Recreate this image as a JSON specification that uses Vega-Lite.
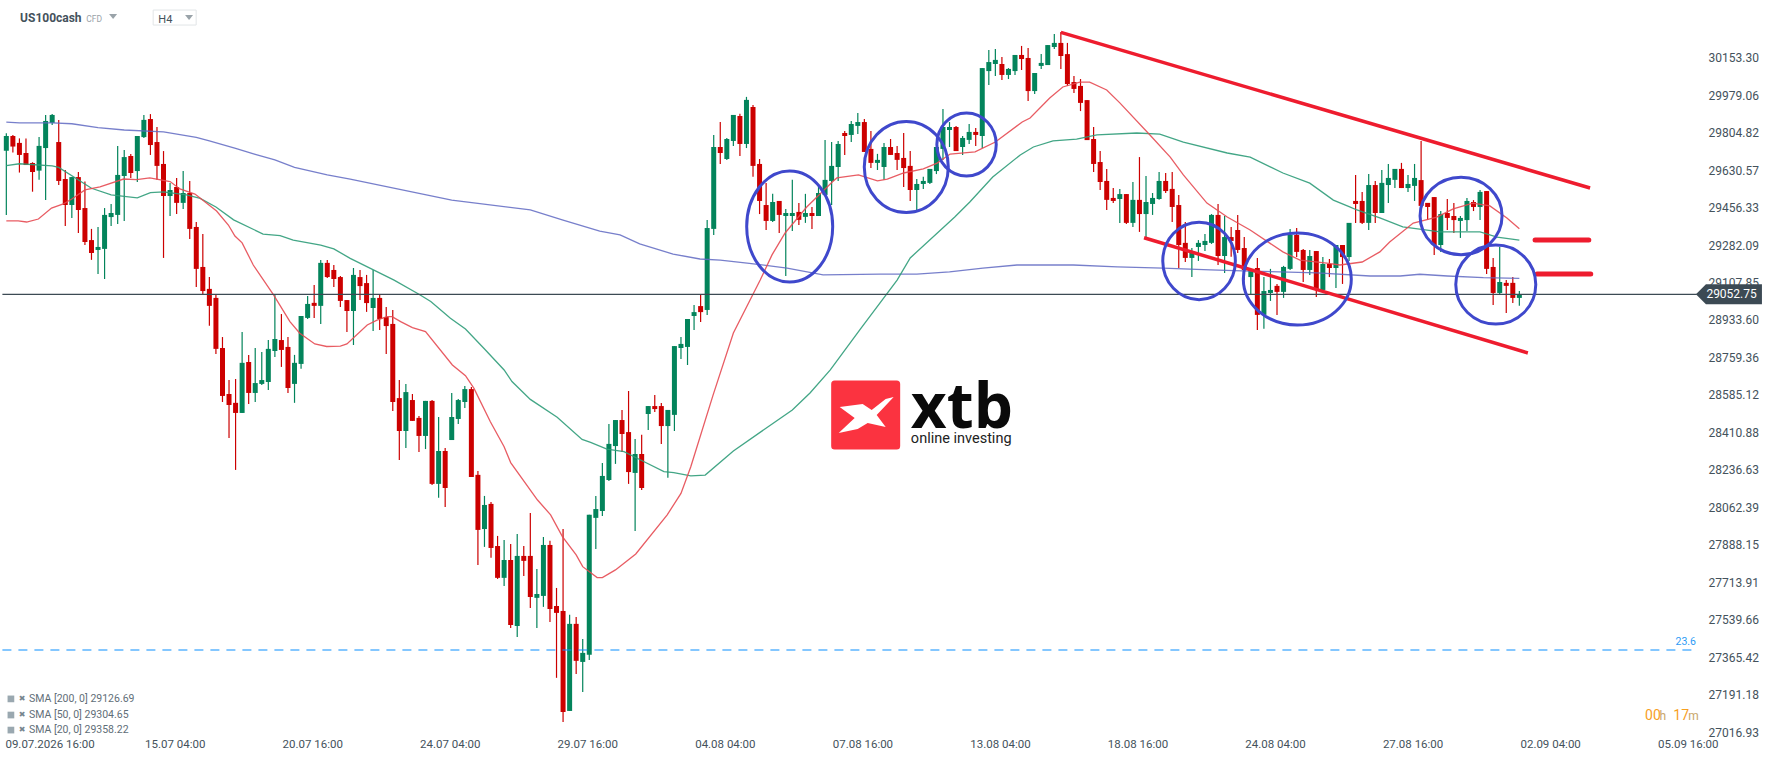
{
  "$schema": "https://vega.github.io/schema/vega-lite/v6.json",
  "autosize": "none",
  "padding": {"left": 0, "top": 0, "right": 68, "bottom": 26},
  "width": 1700,
  "height": 735,
  "background": "white",
  "config": {"view": {"stroke": null}, "text": {"font": "Roboto"}},
  "datasets": {
    "candles": [
      {"i":0,"o":29721,"h":29802,"l":29422,"c":29789},{"i":1,"o":29789,"h":29794,"l":29712,"c":29740},{"i":2,"o":29757,"h":29778,"l":29619,"c":29701},{"i":3,"o":29710,"h":29778,"l":29654,"c":29654},{"i":4,"o":29664,"h":29667,"l":29530,"c":29622},
      {"i":5,"o":29628,"h":29784,"l":29586,"c":29743},{"i":6,"o":29733,"h":29887,"l":29491,"c":29859},{"i":7,"o":29850,"h":29891,"l":29840,"c":29887},{"i":8,"o":29761,"h":29863,"l":29561,"c":29580},{"i":9,"o":29589,"h":29631,"l":29371,"c":29468},
      {"i":10,"o":29468,"h":29598,"l":29408,"c":29598},{"i":11,"o":29598,"h":29622,"l":29338,"c":29445},{"i":12,"o":29454,"h":29577,"l":29282,"c":29296},{"i":13,"o":29305,"h":29357,"l":29213,"c":29245},{"i":14,"o":29259,"h":29366,"l":29147,"c":29273},
      {"i":15,"o":29264,"h":29454,"l":29124,"c":29422},{"i":16,"o":29412,"h":29473,"l":29371,"c":29431},{"i":17,"o":29422,"h":29743,"l":29380,"c":29608},{"i":18,"o":29603,"h":29724,"l":29394,"c":29691},{"i":19,"o":29696,"h":29705,"l":29594,"c":29617},
      {"i":20,"o":29626,"h":29789,"l":29575,"c":29789},{"i":21,"o":29784,"h":29887,"l":29780,"c":29864},{"i":22,"o":29868,"h":29891,"l":29701,"c":29747},{"i":23,"o":29761,"h":29831,"l":29585,"c":29650},{"i":24,"o":29659,"h":29719,"l":29222,"c":29510},
      {"i":25,"o":29510,"h":29571,"l":29417,"c":29538},{"i":26,"o":29552,"h":29594,"l":29426,"c":29478},{"i":27,"o":29478,"h":29626,"l":29450,"c":29524},{"i":28,"o":29524,"h":29580,"l":29310,"c":29357},{"i":29,"o":29366,"h":29389,"l":29087,"c":29171},
      {"i":30,"o":29180,"h":29333,"l":29054,"c":29068},{"i":31,"o":29078,"h":29133,"l":28906,"c":28999},{"i":32,"o":29036,"h":29050,"l":28775,"c":28799},{"i":33,"o":28803,"h":28854,"l":28552,"c":28580},{"i":34,"o":28589,"h":28654,"l":28385,"c":28538},
      {"i":35,"o":28548,"h":28659,"l":28236,"c":28501},{"i":36,"o":28501,"h":28878,"l":28501,"c":28734},{"i":37,"o":28738,"h":28771,"l":28543,"c":28594},{"i":38,"o":28594,"h":28803,"l":28552,"c":28640},{"i":39,"o":28636,"h":28785,"l":28631,"c":28654},
      {"i":40,"o":28645,"h":28840,"l":28608,"c":28799},{"i":41,"o":28789,"h":29050,"l":28761,"c":28845},{"i":42,"o":28840,"h":28961,"l":28715,"c":28794},{"i":43,"o":28808,"h":28854,"l":28594,"c":28617},{"i":44,"o":28636,"h":28771,"l":28548,"c":28734},
      {"i":45,"o":28729,"h":28952,"l":28706,"c":28952},{"i":46,"o":28943,"h":29045,"l":28938,"c":29008},{"i":47,"o":29013,"h":29096,"l":28943,"c":28999},{"i":48,"o":28999,"h":29212,"l":28915,"c":29199},{"i":49,"o":29199,"h":29212,"l":29129,"c":29133},
      {"i":50,"o":29166,"h":29189,"l":29087,"c":29124},{"i":51,"o":29133,"h":29138,"l":28994,"c":29022},{"i":52,"o":29026,"h":29026,"l":28878,"c":28975},{"i":53,"o":28975,"h":29175,"l":28817,"c":29143},{"i":54,"o":29133,"h":29166,"l":29026,"c":29091},
      {"i":55,"o":29105,"h":29143,"l":28971,"c":29012},{"i":56,"o":28989,"h":29166,"l":28882,"c":29036},{"i":57,"o":29036,"h":29050,"l":28887,"c":28938},{"i":58,"o":28947,"h":28994,"l":28775,"c":28905},{"i":59,"o":28915,"h":28980,"l":28510,"c":28552},
      {"i":60,"o":28570,"h":28654,"l":28282,"c":28417},{"i":61,"o":28417,"h":28636,"l":28338,"c":28598},{"i":62,"o":28561,"h":28589,"l":28464,"c":28464},{"i":63,"o":28478,"h":28487,"l":28319,"c":28394},{"i":64,"o":28394,"h":28557,"l":28333,"c":28557},
      {"i":65,"o":28557,"h":28561,"l":28166,"c":28171},{"i":66,"o":28171,"h":28482,"l":28106,"c":28324},{"i":67,"o":28324,"h":28338,"l":28064,"c":28152},{"i":68,"o":28375,"h":28594,"l":28375,"c":28482},{"i":69,"o":28473,"h":28566,"l":28450,"c":28561},
      {"i":70,"o":28552,"h":28626,"l":28524,"c":28612},{"i":71,"o":28612,"h":28622,"l":28203,"c":28203},{"i":72,"o":28213,"h":28231,"l":27794,"c":27957},{"i":73,"o":27961,"h":28115,"l":27878,"c":28073},{"i":74,"o":28078,"h":28087,"l":27827,"c":27873},
      {"i":75,"o":27882,"h":27929,"l":27729,"c":27734},{"i":76,"o":27734,"h":27910,"l":27696,"c":27817},{"i":77,"o":27817,"h":27892,"l":27501,"c":27515},{"i":78,"o":27510,"h":27938,"l":27459,"c":27836},{"i":79,"o":27836,"h":27882,"l":27743,"c":27813},
      {"i":80,"o":27836,"h":28036,"l":27594,"c":27645},{"i":81,"o":27641,"h":27775,"l":27501,"c":27659},{"i":82,"o":27650,"h":27924,"l":27599,"c":27887},{"i":83,"o":27887,"h":27906,"l":27529,"c":27589},{"i":84,"o":27603,"h":27687,"l":27269,"c":27571},
      {"i":85,"o":27580,"h":27961,"l":27064,"c":27110},{"i":86,"o":27115,"h":27562,"l":27115,"c":27520},{"i":87,"o":27520,"h":27552,"l":27287,"c":27348},{"i":88,"o":27343,"h":27450,"l":27203,"c":27385},{"i":89,"o":27376,"h":28027,"l":27352,"c":28027},
      {"i":90,"o":28013,"h":28115,"l":27868,"c":28054},{"i":91,"o":28045,"h":28268,"l":28022,"c":28208},{"i":92,"o":28189,"h":28450,"l":28185,"c":28357},{"i":93,"o":28347,"h":28468,"l":28264,"c":28468},{"i":94,"o":28468,"h":28515,"l":28319,"c":28403},
      {"i":95,"o":28412,"h":28603,"l":28171,"c":28226},{"i":96,"o":28222,"h":28380,"l":27952,"c":28310},{"i":97,"o":28310,"h":28399,"l":28143,"c":28152},{"i":98,"o":28496,"h":28533,"l":28422,"c":28533},{"i":99,"o":28533,"h":28584,"l":28505,"c":28519},
      {"i":100,"o":28533,"h":28547,"l":28357,"c":28440},{"i":101,"o":28440,"h":28515,"l":28199,"c":28515},{"i":102,"o":28492,"h":28812,"l":28417,"c":28812},{"i":103,"o":28803,"h":28854,"l":28752,"c":28822},{"i":104,"o":28808,"h":28938,"l":28724,"c":28938},
      {"i":105,"o":28952,"h":29003,"l":28887,"c":28970},{"i":106,"o":28998,"h":29049,"l":28924,"c":28970},{"i":107,"o":28980,"h":29398,"l":28957,"c":29361},{"i":108,"o":29357,"h":29794,"l":29329,"c":29738},{"i":109,"o":29738,"h":29854,"l":29659,"c":29710},
      {"i":110,"o":29682,"h":29780,"l":29678,"c":29775},{"i":111,"o":29766,"h":29887,"l":29743,"c":29887},{"i":112,"o":29882,"h":29892,"l":29696,"c":29752},{"i":113,"o":29752,"h":29971,"l":29733,"c":29957},{"i":114,"o":29924,"h":29933,"l":29599,"c":29650},
      {"i":115,"o":29659,"h":29682,"l":29426,"c":29487},{"i":116,"o":29468,"h":29571,"l":29352,"c":29394},{"i":117,"o":29394,"h":29520,"l":29389,"c":29482},{"i":118,"o":29487,"h":29487,"l":29338,"c":29422},{"i":119,"o":29417,"h":29450,"l":29138,"c":29431},
      {"i":120,"o":29417,"h":29585,"l":29347,"c":29431},{"i":121,"o":29436,"h":29478,"l":29375,"c":29399},{"i":122,"o":29413,"h":29520,"l":29385,"c":29431},{"i":123,"o":29431,"h":29459,"l":29357,"c":29417},{"i":124,"o":29417,"h":29552,"l":29417,"c":29524},
      {"i":125,"o":29515,"h":29771,"l":29515,"c":29585},{"i":126,"o":29580,"h":29761,"l":29468,"c":29650},{"i":127,"o":29645,"h":29766,"l":29580,"c":29752},{"i":128,"o":29803,"h":29812,"l":29701,"c":29789},{"i":129,"o":29794,"h":29859,"l":29761,"c":29845},
      {"i":130,"o":29836,"h":29896,"l":29798,"c":29854},{"i":131,"o":29854,"h":29868,"l":29715,"c":29715},{"i":132,"o":29729,"h":29812,"l":29640,"c":29664},{"i":133,"o":29664,"h":29706,"l":29631,"c":29678},{"i":134,"o":29645,"h":29757,"l":29585,"c":29738},
      {"i":135,"o":29738,"h":29775,"l":29701,"c":29701},{"i":136,"o":29710,"h":29743,"l":29631,"c":29678},{"i":137,"o":29687,"h":29803,"l":29552,"c":29640},{"i":138,"o":29650,"h":29719,"l":29487,"c":29538},{"i":139,"o":29538,"h":29589,"l":29445,"c":29566},
      {"i":140,"o":29566,"h":29599,"l":29543,"c":29580},{"i":141,"o":29571,"h":29636,"l":29566,"c":29636},{"i":142,"o":29626,"h":29738,"l":29612,"c":29738},{"i":143,"o":29729,"h":29915,"l":29678,"c":29831},{"i":144,"o":29817,"h":29854,"l":29738,"c":29831},
      {"i":145,"o":29831,"h":29836,"l":29719,"c":29719},{"i":146,"o":29738,"h":29789,"l":29701,"c":29780},{"i":147,"o":29771,"h":29845,"l":29752,"c":29808},{"i":148,"o":29808,"h":29826,"l":29743,"c":29794},{"i":149,"o":29789,"h":30105,"l":29733,"c":30105},
      {"i":150,"o":30091,"h":30189,"l":30026,"c":30133},{"i":151,"o":30124,"h":30194,"l":30068,"c":30143},{"i":152,"o":30124,"h":30157,"l":30050,"c":30073},{"i":153,"o":30073,"h":30105,"l":30054,"c":30101},{"i":154,"o":30091,"h":30166,"l":30073,"c":30166},
      {"i":155,"o":30166,"h":30208,"l":30096,"c":30147},{"i":156,"o":30152,"h":30198,"l":29952,"c":29998},{"i":157,"o":29998,"h":30082,"l":29984,"c":30082},{"i":158,"o":30115,"h":30170,"l":30101,"c":30129},{"i":159,"o":30119,"h":30212,"l":30119,"c":30212},
      {"i":160,"o":30203,"h":30263,"l":30194,"c":30222},{"i":161,"o":30222,"h":30273,"l":30101,"c":30161},{"i":162,"o":30170,"h":30222,"l":30022,"c":30031},{"i":163,"o":30040,"h":30068,"l":29989,"c":30008},{"i":164,"o":30022,"h":30054,"l":29905,"c":29943},
      {"i":165,"o":29956,"h":29956,"l":29770,"c":29770},{"i":166,"o":29775,"h":29831,"l":29622,"c":29659},{"i":167,"o":29668,"h":29719,"l":29538,"c":29575},{"i":168,"o":29580,"h":29636,"l":29445,"c":29492},{"i":169,"o":29501,"h":29547,"l":29478,"c":29487},
      {"i":170,"o":29496,"h":29543,"l":29385,"c":29519},{"i":171,"o":29519,"h":29519,"l":29380,"c":29385},{"i":172,"o":29385,"h":29575,"l":29366,"c":29492},{"i":173,"o":29492,"h":29691,"l":29343,"c":29426},{"i":174,"o":29426,"h":29603,"l":29319,"c":29482},
      {"i":175,"o":29473,"h":29524,"l":29422,"c":29501},{"i":176,"o":29496,"h":29622,"l":29492,"c":29580},{"i":177,"o":29580,"h":29617,"l":29524,"c":29533},{"i":178,"o":29543,"h":29622,"l":29389,"c":29459},{"i":179,"o":29468,"h":29515,"l":29175,"c":29282},
      {"i":180,"o":29292,"h":29389,"l":29203,"c":29222},{"i":181,"o":29222,"h":29268,"l":29133,"c":29250},{"i":182,"o":29273,"h":29305,"l":29208,"c":29292},{"i":183,"o":29282,"h":29333,"l":29254,"c":29301},{"i":184,"o":29292,"h":29426,"l":29287,"c":29422},
      {"i":185,"o":29422,"h":29473,"l":29189,"c":29231},{"i":186,"o":29231,"h":29417,"l":29152,"c":29319},{"i":187,"o":29319,"h":29366,"l":29228,"c":29301},{"i":188,"o":29352,"h":29422,"l":29245,"c":29259},{"i":189,"o":29268,"h":29319,"l":29119,"c":29166},
      {"i":190,"o":29133,"h":29171,"l":29050,"c":29166},{"i":191,"o":29175,"h":29222,"l":28887,"c":28957},{"i":192,"o":28957,"h":29133,"l":28892,"c":29068},{"i":193,"o":29059,"h":29171,"l":29022,"c":29073},{"i":194,"o":29092,"h":29101,"l":28957,"c":29064},
      {"i":195,"o":29064,"h":29185,"l":29036,"c":29180},{"i":196,"o":29171,"h":29357,"l":29166,"c":29329},{"i":197,"o":29329,"h":29361,"l":29226,"c":29250},{"i":198,"o":29259,"h":29264,"l":29110,"c":29166},{"i":199,"o":29166,"h":29259,"l":29143,"c":29231},
      {"i":200,"o":29254,"h":29254,"l":29040,"c":29073},{"i":201,"o":29073,"h":29226,"l":29068,"c":29194},{"i":202,"o":29194,"h":29217,"l":29133,"c":29175},{"i":203,"o":29175,"h":29282,"l":29082,"c":29282},{"i":204,"o":29282,"h":29282,"l":29101,"c":29226},
      {"i":205,"o":29226,"h":29385,"l":29208,"c":29385},{"i":206,"o":29487,"h":29608,"l":29385,"c":29473},{"i":207,"o":29487,"h":29529,"l":29380,"c":29385},{"i":208,"o":29385,"h":29612,"l":29352,"c":29561},{"i":209,"o":29561,"h":29580,"l":29385,"c":29431},
      {"i":210,"o":29431,"h":29631,"l":29431,"c":29571},{"i":211,"o":29561,"h":29659,"l":29478,"c":29594},{"i":212,"o":29585,"h":29636,"l":29547,"c":29636},{"i":213,"o":29636,"h":29664,"l":29547,"c":29547},{"i":214,"o":29547,"h":29608,"l":29529,"c":29566},
      {"i":215,"o":29557,"h":29659,"l":29487,"c":29594},{"i":216,"o":29584,"h":29766,"l":29440,"c":29464},{"i":217,"o":29478,"h":29478,"l":29398,"c":29459},{"i":218,"o":29505,"h":29505,"l":29236,"c":29282},{"i":219,"o":29282,"h":29440,"l":29250,"c":29426},
      {"i":220,"o":29431,"h":29496,"l":29352,"c":29408},{"i":221,"o":29417,"h":29478,"l":29338,"c":29398},{"i":222,"o":29394,"h":29417,"l":29315,"c":29408},{"i":223,"o":29398,"h":29501,"l":29347,"c":29487},{"i":224,"o":29482,"h":29491,"l":29440,"c":29459},
      {"i":225,"o":29459,"h":29538,"l":29398,"c":29529},{"i":226,"o":29533,"h":29533,"l":29147,"c":29171},{"i":227,"o":29180,"h":29222,"l":29003,"c":29059},{"i":228,"o":29059,"h":29273,"l":29054,"c":29110},{"i":229,"o":29106,"h":29119,"l":28966,"c":29092},
      {"i":230,"o":29106,"h":29133,"l":29012,"c":29036},{"i":231,"o":29036,"h":29068,"l":28999,"c":29053}
    ],
    "sma200": [
      {"i":0,"p":29854},{"i":2,"p":29850},{"i":7,"p":29850},{"i":10,"p":29846},{"i":14,"p":29828},{"i":18,"p":29817},{"i":24,"p":29808},{"i":29,"p":29783},{"i":31,"p":29766},{"i":35,"p":29732},{"i":38,"p":29704},{"i":41,"p":29678},{"i":44,"p":29643},{"i":49,"p":29608},{"i":52.5,"p":29588},
      {"i":68,"p":29491},{"i":80,"p":29445},{"i":85,"p":29398},{"i":90.6,"p":29347},{"i":93.7,"p":29329},{"i":96.7,"p":29287},{"i":101.8,"p":29240},{"i":105.9,"p":29217},{"i":109,"p":29212},{"i":113.1,"p":29198},{"i":119.2,"p":29175},{"i":124.7,"p":29143},{"i":133.4,"p":29147},{"i":139,"p":29147},{"i":144,"p":29157},{"i":149.1,"p":29175},{"i":154.3,"p":29189},{"i":162.9,"p":29189},{"i":169.6,"p":29180},{"i":176.6,"p":29175},{"i":183.8,"p":29166},{"i":189.9,"p":29161},{"i":200.1,"p":29152},{"i":208.2,"p":29138},{"i":212.8,"p":29138},{"i":215.8,"p":29146},{"i":220,"p":29138},{"i":225.5,"p":29130},{"i":231,"p":29127}
    ],
    "sma50": [
      {"i":0,"p":29651},{"i":2,"p":29660},{"i":7,"p":29650},{"i":8,"p":29643},{"i":13,"p":29546},{"i":16,"p":29515},{"i":20,"p":29501},{"i":22,"p":29526},{"i":24,"p":29529},{"i":27.5,"p":29515},{"i":29.6,"p":29499},{"i":32,"p":29459},{"i":34.7,"p":29399},{"i":39.2,"p":29333},{"i":41.8,"p":29326},{"i":43.8,"p":29305},{"i":48,"p":29282},{"i":50,"p":29264},{"i":52.5,"p":29220},
      {"i":59.2,"p":29119},{"i":63,"p":29053},{"i":64.8,"p":29019},{"i":67.8,"p":28941},{"i":70.1,"p":28891},{"i":72.9,"p":28802},{"i":76,"p":28701},{"i":77.2,"p":28647},{"i":80,"p":28564},{"i":84.1,"p":28481},{"i":87.9,"p":28378},{"i":89.2,"p":28364},{"i":91.7,"p":28333},{"i":94.3,"p":28321},{"i":97.3,"p":28275},{"i":100.4,"p":28228},{"i":101.9,"p":28223},{"i":104.5,"p":28208},{"i":106.7,"p":28212},{"i":111,"p":28324},{"i":120,"p":28515},{"i":122.7,"p":28594},{"i":125.8,"p":28701},{"i":130.3,"p":28887},{"i":136,"p":29119},{"i":138,"p":29222},{"i":144.8,"p":29412},{"i":147.1,"p":29482},{"i":150.6,"p":29598},{"i":154.8,"p":29701},{"i":156.8,"p":29738},{"i":159.8,"p":29766},{"i":163.4,"p":29775},{"i":166.5,"p":29794},{"i":172.6,"p":29803},{"i":176.1,"p":29798},{"i":179.7,"p":29761},{"i":186.4,"p":29710},{"i":189.9,"p":29691},{"i":194.9,"p":29617},{"i":199,"p":29570},{"i":202.6,"p":29491},{"i":205.1,"p":29459},{"i":206.2,"p":29445},{"i":209.7,"p":29408},{"i":213.2,"p":29366},{"i":218.9,"p":29343},{"i":225,"p":29343},{"i":227.6,"p":29319},{"i":231,"p":29305}
    ],
    "sma20": [
      {"i":0,"p":29394},{"i":1.8,"p":29394},{"i":3.1,"p":29389},{"i":4.9,"p":29403},{"i":6.9,"p":29454},{"i":8.7,"p":29473},{"i":10,"p":29496},{"i":12,"p":29538},{"i":14.3,"p":29552},{"i":17.9,"p":29589},{"i":19.9,"p":29586},{"i":21.9,"p":29594},{"i":25,"p":29577},{"i":26.5,"p":29543},{"i":28.8,"p":29519},{"i":32.1,"p":29440},{"i":33.9,"p":29375},{"i":34.9,"p":29324},{"i":36,"p":29292},{"i":37.7,"p":29189},{"i":40.8,"p":29050},{"i":43.3,"p":28926},{"i":44.8,"p":28872},{"i":47.1,"p":28822},{"i":48.9,"p":28810},{"i":51,"p":28812},{"i":52,"p":28822},
      {"i":55.1,"p":28910},{"i":56.6,"p":28933},{"i":58.1,"p":28949},{"i":58.9,"p":28949},{"i":60.2,"p":28926},{"i":62,"p":28898},{"i":64,"p":28879},{"i":68.1,"p":28724},{"i":70.1,"p":28674},{"i":71.4,"p":28615},{"i":73.9,"p":28460},{"i":76,"p":28344},{"i":77,"p":28270},{"i":81.1,"p":28096},{"i":83.1,"p":28027},{"i":84.9,"p":27926},{"i":87,"p":27841},{"i":88,"p":27786},{"i":90.2,"p":27735},{"i":91,"p":27735},{"i":93,"p":27771},{"i":96.1,"p":27845},{"i":100.9,"p":28027},{"i":103,"p":28127},{"i":104.5,"p":28251},{"i":107.9,"p":28584},{"i":111,"p":28873},{"i":115.1,"p":29119},{"i":116.9,"p":29236},{"i":118.9,"p":29338},{"i":122.2,"p":29459},{"i":126.1,"p":29575},{"i":126.8,"p":29594},{"i":130.1,"p":29608},{"i":133,"p":29580},{"i":134.5,"p":29589},{"i":137,"p":29617},{"i":140,"p":29636},{"i":142.1,"p":29663},{"i":144.1,"p":29705},{"i":147.9,"p":29715},{"i":151,"p":29761},{"i":155.1,"p":29854},{"i":156.3,"p":29873},{"i":159.3,"p":29966},{"i":161.3,"p":30017},{"i":163.9,"p":30040},{"i":165.4,"p":30040},{"i":168,"p":30003},{"i":170,"p":29943},{"i":174.6,"p":29794},{"i":177.7,"p":29691},{"i":179.7,"p":29608},{"i":183.3,"p":29477},{"i":186.4,"p":29412},{"i":189.9,"p":29352},{"i":194.9,"p":29250},{"i":197.5,"p":29212},{"i":201.6,"p":29198},{"i":203.6,"p":29189},{"i":207,"p":29203},{"i":209.7,"p":29250},{"i":211.2,"p":29296},{"i":214.8,"p":29384},{"i":218.4,"p":29412},{"i":220.9,"p":29450},{"i":223.9,"p":29477},{"i":226.5,"p":29464},{"i":229.1,"p":29408},{"i":231,"p":29358}
    ],
    "trend": [
      {"line":"upper","i":161,"p":30271},{"line":"upper","i":241.8,"p":29547},
      {"line":"lower","i":173.7,"p":29316},{"line":"lower","i":232.3,"p":28780}
    ],
    "stubs": [
      {"line":"a","i":233.4,"p":29305},{"line":"a","i":241.6,"p":29305},
      {"line":"b","i":233.7,"p":29147},{"line":"b","i":241.9,"p":29147}
    ]
  },
  "encoding": {
    "x": {
      "field": "i",
      "type": "quantitative",
      "scale": {"domain": [-0.966, 258.58], "nice": false, "zero": false, "padding": 0},
      "axis": {
        "title": null, "grid": false, "domain": false, "ticks": false, "labelFont": "Roboto", "labelFontSize": 11.5, "labelColor": "#44525c", "labelPadding": 3, "labelOverlap": false, "labelFlush": false, "labelBound": false,
        "values": [6.6, 25.7, 46.7, 67.7, 88.7, 109.7, 130.7, 151.7, 172.7, 193.7, 214.7, 235.7, 256.7],
        "labelExpr": "['09.07.2026 16:00','15.07 04:00','20.07 16:00','24.07 04:00','29.07 16:00','04.08 04:00','07.08 16:00','13.08 04:00','18.08 16:00','24.08 04:00','27.08 16:00','02.09 04:00','05.09 16:00'][round((datum.value-4.7)/21)]"
      }
    },
    "y": {
      "field": "p",
      "type": "quantitative",
      "scale": {"domain": [27003.1, 30421.6], "nice": false, "zero": false},
      "axis": {
        "orient": "right", "title": null, "grid": false, "domain": false, "ticks": false, "labelFont": "Roboto", "labelFontSize": 12, "labelColor": "#44525c", "labelPadding": 8, "labelOverlap": false, "labelFlush": false, "labelBound": false, "format": ".2f",
        "values": [30153.30, 29979.06, 29804.82, 29630.57, 29456.33, 29282.09, 29107.85, 28933.60, 28759.36, 28585.12, 28410.88, 28236.63, 28062.39, 27888.15, 27713.91, 27539.66, 27365.42, 27191.18, 27016.93]
      }
    }
  },
  "layer": [
    {
      "data": {"name": "candles"},
      "mark": {"type": "rule", "strokeWidth": 1.2},
      "encoding": {
        "y": {"field": "l", "type": "quantitative"},
        "y2": {"field": "h"},
        "color": {"condition": {"test": "datum.c > datum.o", "value": "#03845b"}, "value": "#cc0000"}
      }
    },
    {
      "data": {"name": "candles"},
      "mark": {"type": "bar", "width": 5, "orient": "vertical"},
      "encoding": {
        "y": {"field": "o", "type": "quantitative"},
        "y2": {"field": "c"},
        "color": {"condition": {"test": "datum.c > datum.o", "value": "#03845b"}, "value": "#cc0000"}
      }
    },
    {"data": {"name": "sma200"}, "mark": {"type": "line", "stroke": "#5f68c2", "strokeWidth": 1.3, "opacity": 0.85}, "encoding": {}},
    {"data": {"name": "sma50"}, "mark": {"type": "line", "stroke": "#2f9c79", "strokeWidth": 1.3, "opacity": 0.9}, "encoding": {}},
    {"data": {"name": "sma20"}, "mark": {"type": "line", "stroke": "#e64a52", "strokeWidth": 1.3, "opacity": 0.9}, "encoding": {}},
    {
      "data": {"values": [{"i": -0.6, "i2": 258.1, "p": 29052.75}]},
      "mark": {"type": "rule", "stroke": "#3c4a54", "strokeWidth": 1.2},
      "encoding": {"x2": {"field": "i2"}}
    },
    {
      "data": {"values": [{"i": -0.6, "i2": 258.1, "p": 27398.4}]},
      "mark": {"type": "rule", "stroke": "#0a8fff", "strokeWidth": 1.2, "strokeDash": [9, 7]},
      "encoding": {"x2": {"field": "i2"}}
    },
    {
      "data": {"name": "trend"},
      "mark": {"type": "line", "stroke": "#ee1c2e", "strokeWidth": 3.5},
      "encoding": {"detail": {"field": "line"}}
    },
    {
      "data": {"name": "stubs"},
      "mark": {"type": "line", "stroke": "#ee1c2e", "strokeWidth": 5, "strokeCap": "round"},
      "encoding": {"detail": {"field": "line"}}
    },
    {"data": {"values": [{"i": 119.6, "p": 29368}]}, "mark": {"type": "point", "filled": false, "size": 4, "opacity": 1, "stroke": "#3f48cc", "strokeWidth": 3, "shape": "M-43,0A43,55.5 0 1,1 43,0A43,55.5 0 1,1 -43,0Z"}},
    {"data": {"values": [{"i": 137.4, "p": 29645}]}, "mark": {"type": "point", "filled": false, "size": 4, "opacity": 1, "stroke": "#3f48cc", "strokeWidth": 3, "shape": "M-42,0A42,45.5 0 1,1 42,0A42,45.5 0 1,1 -42,0Z"}},
    {"data": {"values": [{"i": 146.6, "p": 29749}]}, "mark": {"type": "point", "filled": false, "size": 4, "opacity": 1, "stroke": "#3f48cc", "strokeWidth": 3, "shape": "M-29.7,0A29.7,31.5 0 1,1 29.7,0A29.7,31.5 0 1,1 -29.7,0Z"}},
    {"data": {"values": [{"i": 182.1, "p": 29208}]}, "mark": {"type": "point", "filled": false, "size": 4, "opacity": 1, "stroke": "#3f48cc", "strokeWidth": 3, "shape": "M-36.3,0A36.3,38.7 0 1,1 36.3,0A36.3,38.7 0 1,1 -36.3,0Z"}},
    {"data": {"values": [{"i": 197.1, "p": 29124}]}, "mark": {"type": "point", "filled": false, "size": 4, "opacity": 1, "stroke": "#3f48cc", "strokeWidth": 3, "shape": "M-54,0A54,46 0 1,1 54,0A54,46 0 1,1 -54,0Z"}},
    {"data": {"values": [{"i": 222.1, "p": 29417}]}, "mark": {"type": "point", "filled": false, "size": 4, "opacity": 1, "stroke": "#3f48cc", "strokeWidth": 3, "shape": "M-41,0A41,38.7 0 1,1 41,0A41,38.7 0 1,1 -41,0Z"}},
    {"data": {"values": [{"i": 227.4, "p": 29098}]}, "mark": {"type": "point", "filled": false, "size": 4, "opacity": 1, "stroke": "#3f48cc", "strokeWidth": 3, "shape": "M-40,0A40,39.5 0 1,1 40,0A40,39.5 0 1,1 -40,0Z"}},
    {"data": {"values": [{"i": 263, "p": 29052.75}]}, "mark": {"type": "point", "filled": true, "size": 4, "opacity": 1, "color": "#3c4a54", "shape": "M-33,0L-23,-10L33,-10L33,10L-23,10Z"}},
    {
      "data": {"values": [{"i": 263.4, "p": 29052.75, "t": "29052.75"}]},
      "mark": {"type": "text", "color": "white", "fontSize": 12, "font": "Roboto", "baseline": "middle"},
      "encoding": {"text": {"field": "t"}}
    },
    {
      "data": {"values": [{"i": 256.4, "p": 27437, "t": "23.6"}]},
      "mark": {"type": "text", "color": "#2e9bf5", "fontSize": 10.5, "baseline": "middle"},
      "encoding": {"text": {"field": "t"}}
    },
    {"data": {"values": [{"i": 131.2, "p": 28491}]}, "mark": {"type": "point", "filled": true, "size": 4, "opacity": 1, "color": "#fb3340", "shape": "M-31,-34.5L31,-34.5Q34.5,-34.5 34.5,-31L34.5,31Q34.5,34.5 31,34.5L-31,34.5Q-34.5,34.5 -34.5,31L-34.5,-31Q-34.5,-34.5 -31,-34.5Z"}},
    {"data": {"values": [{"i": 131.2, "p": 28491}]}, "mark": {"type": "point", "filled": true, "size": 4, "opacity": 1, "color": "white", "shape": "M-26,-8L-3,-11L6,-5L20,-16L28,-18L11,0L20,12L2,8L-8,14L-27,18L-11,3Z"}},
    {
      "data": {"values": [{"i": 138.1, "p": 28432, "t": "xtb"}]},
      "mark": {"type": "text", "align": "left", "baseline": "alphabetic", "font": "Open Sans", "fontWeight": 700, "fontSize": 62, "color": "#0a0a0a"},
      "encoding": {"text": {"field": "t"}}
    },
    {
      "data": {"values": [{"i": 138.1, "p": 28362, "t": "online investing"}]},
      "mark": {"type": "text", "align": "left", "baseline": "alphabetic", "fontSize": 14.5, "color": "#222222"},
      "encoding": {"text": {"field": "t"}}
    },
    {
      "data": {"values": [{"i": 2.1, "p": 30336, "t": "US100cash"}]},
      "mark": {"type": "text", "align": "left", "baseline": "middle", "fontWeight": 700, "fontSize": 12, "color": "#44525c"},
      "encoding": {"text": {"field": "t"}}
    },
    {
      "data": {"values": [{"i": 12.2, "p": 30333, "t": "CFD"}]},
      "mark": {"type": "text", "align": "left", "baseline": "middle", "fontSize": 8.5, "color": "#9aa3a9"},
      "encoding": {"text": {"field": "t"}}
    },
    {"data": {"values": [{"i": 16.3, "p": 30347}, {"i": 27.9, "p": 30342}]}, "mark": {"type": "point", "filled": true, "size": 4, "opacity": 1, "color": "#9aa3a9", "shape": "M-4,-2L4,-2L0,3Z"}},
    {"data": {"values": [{"i": 25.7, "p": 30340}]}, "mark": {"type": "point", "filled": false, "size": 4, "opacity": 1, "stroke": "#e2e5e7", "strokeWidth": 1, "shape": "M-21.5,-7.5L21.5,-7.5L21.5,7.5L-21.5,7.5Z"}},
    {
      "data": {"values": [{"i": 23.2, "p": 30329, "t": "H4"}]},
      "mark": {"type": "text", "align": "left", "baseline": "middle", "fontSize": 11, "color": "#44525c"},
      "encoding": {"text": {"field": "t"}}
    },
    {"data": {"values": [{"i": 0.7, "p": 27171}, {"i": 0.7, "p": 27096}, {"i": 0.7, "p": 27026}]}, "mark": {"type": "square", "size": 45, "opacity": 1, "color": "#9aa8b0"}},
    {
      "data": {"values": [{"i": 2.4, "p": 27171, "t": "✖"}, {"i": 2.4, "p": 27096, "t": "✖"}, {"i": 2.4, "p": 27026, "t": "✖"}]},
      "mark": {"type": "text", "baseline": "middle", "font": "DejaVu Sans", "fontSize": 8, "color": "#77858e"},
      "encoding": {"text": {"field": "t"}}
    },
    {
      "data": {"values": [{"i": 3.46, "p": 27171, "t": "SMA [200, 0] 29126.69"}, {"i": 3.46, "p": 27096, "t": "SMA [50, 0] 29304.65"}, {"i": 3.46, "p": 27026, "t": "SMA [20, 0] 29358.22"}]},
      "mark": {"type": "text", "align": "left", "baseline": "middle", "fontSize": 10.5, "color": "#5f6e78"},
      "encoding": {"text": {"field": "t"}}
    },
    {
      "data": {"values": [{"i": 250.2, "p": 27091, "t": "00"}, {"i": 254.5, "p": 27091, "t": "17"}]},
      "mark": {"type": "text", "align": "left", "baseline": "middle", "fontSize": 14, "color": "#f7a01f"},
      "encoding": {"text": {"field": "t"}}
    },
    {
      "data": {"values": [{"i": 252.4, "p": 27091, "t": "h"}, {"i": 256.8, "p": 27091, "t": "m"}]},
      "mark": {"type": "text", "align": "left", "baseline": "middle", "fontSize": 12, "color": "#c9a66b"},
      "encoding": {"text": {"field": "t"}}
    }
  ]
}
